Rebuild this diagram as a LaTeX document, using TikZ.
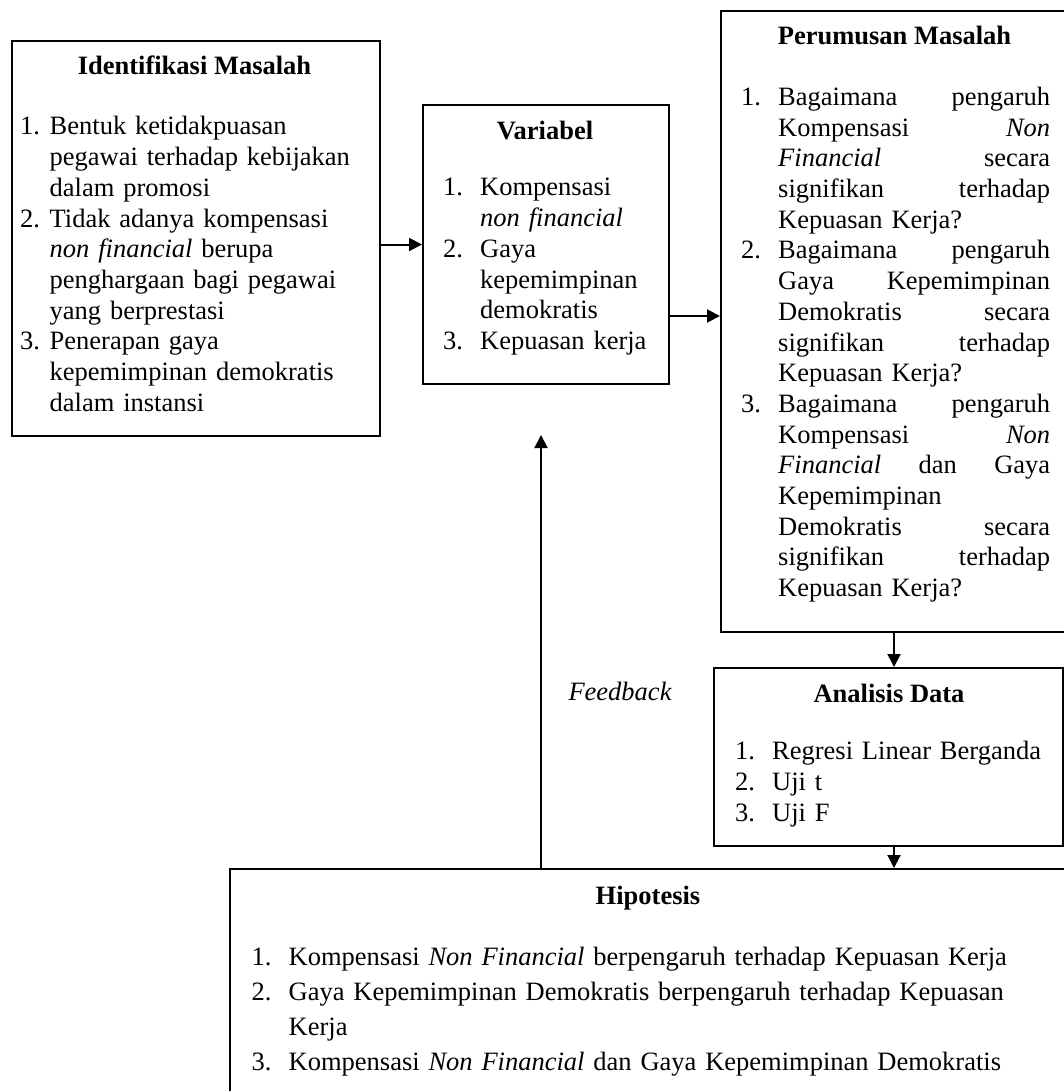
\documentclass[tikz,border=0pt]{standalone}
\usepackage{fontspec}
\setmainfont{Liberation Serif}
\usetikzlibrary{arrows.meta}
\setlength{\parindent}{0pt}
\newcommand\inum[2][37pt]{\leavevmode\llap{\makebox[#1][l]{#2}}}
\begin{document}
\begin{tikzpicture}[x=1pt,y=-1pt,
  box/.style={draw, line width=2pt, inner sep=0pt, anchor=north west},
  ttl/.style={anchor=base, inner sep=0pt, font=\fontsize{26.5}{30.7}\selectfont\bfseries},
  lst/.style={anchor=base west, inner sep=0pt, align=left, font=\fontsize{26.5}{30.7}\selectfont},
  lbl/.style={anchor=base, inner sep=0pt, font=\fontsize{26.5}{30.7}\selectfont\itshape},
  arr/.style={line width=2pt, -{Triangle[length=13pt,width=13pt]}}]
\useasboundingbox (0,0) rectangle (1064,1091);
\fill[white] (0,0) rectangle (1064,1091);
\clip (0,0) rectangle (1064,1091);

% boxes
\node[box, minimum width=368pt, minimum height=394.5pt] (idm) at (10.5,40.5) {};
\node[box, minimum width=246pt, minimum height=279pt] (var) at (422,104) {};
\node[box, minimum width=380pt, minimum height=621pt] (pm) at (720,10) {};
\node[box, minimum width=349pt, minimum height=178pt] (ad) at (713,667) {};
\node[box, minimum width=880pt, minimum height=260pt] (hip) at (229,868) {};

% titles
\node[ttl] (t1) at (194.5,75) {Identifikasi Masalah};
\node[ttl] (t2) at (545,139.5) {Variabel};
\node[ttl] (t3) at (894.5,44.5) {Perumusan Masalah};
\node[ttl] (t4) at (889,702.5) {Analisis Data};
\node[ttl] (t5) at (648,904) {Hipotesis};

% lists
\node[lst, text width=320pt] (l1) at (49.5,135) {%
\inum[29.5pt]{1.}Bentuk ketidakpuasan\\
pegawai terhadap kebijakan\\
dalam promosi\\
\inum[29.5pt]{2.}Tidak adanya kompensasi\\
\textit{non financial} berupa\\
penghargaan bagi pegawai\\
yang berprestasi\\
\inum[29.5pt]{3.}Penerapan gaya\\
kepemimpinan demokratis\\
dalam instansi};

\node[lst, text width=180pt] (l2) at (480,196) {%
\inum{1.}Kompensasi\\
\textit{non financial}\\
\inum{2.}Gaya\\
kepemimpinan\\
demokratis\\
\inum{3.}Kepuasan kerja};

\node[lst, text width=272pt] (l3) at (778,105.5) {%
\inum{1.}Bagaimana\hfill pengaruh\\
Kompensasi\hfill \textit{Non}\\
\textit{Financial}\hfill secara\\
signifikan\hfill terhadap\\
Kepuasan Kerja?\\
\inum{2.}Bagaimana\hfill pengaruh\\
Gaya\hfill Kepemimpinan\\
Demokratis\hfill secara\\
signifikan\hfill terhadap\\
Kepuasan Kerja?\\
\inum{3.}Bagaimana\hfill pengaruh\\
Kompensasi\hfill \textit{Non}\\
\textit{Financial}\hfill dan\hfill Gaya\\
Kepemimpinan\\
Demokratis\hfill secara\\
signifikan\hfill terhadap\\
Kepuasan Kerja?};

\node[lst, text width=280pt, font=\fontsize{26.5}{31}\selectfont] (l4) at (772,759) {%
\inum{1.}Regresi Linear Berganda\\
\inum{2.}Uji t\\
\inum{3.}Uji F};

\node[lst, text width=760pt, font=\fontsize{26.5}{35.2}\selectfont] (l5) at (288.5,965) {%
\inum{1.}Kompensasi \textit{Non Financial} berpengaruh terhadap Kepuasan Kerja\\
\inum{2.}Gaya Kepemimpinan Demokratis berpengaruh terhadap Kepuasan\\
Kerja\\
\inum{3.}Kompensasi \textit{Non Financial} dan Gaya Kepemimpinan Demokratis};

% connectors
\draw[arr] (var.west -| idm.east) -- (var.west);
\coordinate (a2) at ([yshift=5.5pt]pm.west);
\draw[arr] (var.east |- a2) -- (a2);
\coordinate (a3) at ([xshift=5.5pt]ad.north);
\draw[arr] (pm.south -| a3) -- (a3);
\draw[arr] (ad.south -| a3) -- (hip.north -| a3);
\coordinate (fb) at (541,435);
\draw[arr] (hip.north -| fb) -- (fb);
\node[lbl] (fbl) at (620,700) {Feedback};
\end{tikzpicture}
\end{document}
